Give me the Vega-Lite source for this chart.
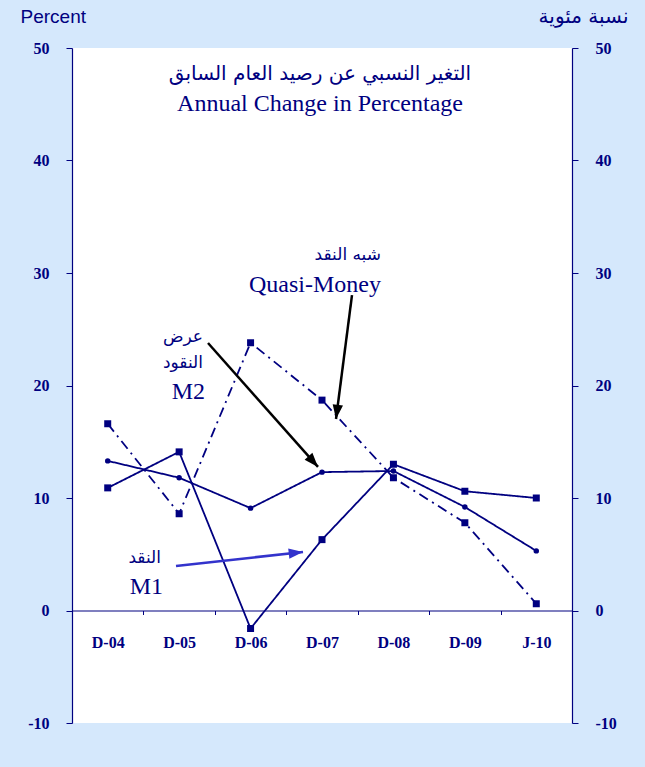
{
  "$schema": "https://vega.github.io/schema/vega-lite/v6.json",
  "width": 500,
  "height": 675,
  "autosize": {"type": "none"},
  "padding": {"left": 72, "top": 48, "right": 73, "bottom": 44},
  "background": "#D5E8FC",
  "config": {"view": {"fill": "white", "stroke": null}},
  "datasets": {
    "series": [
      {"s": "M1", "period": "D-04", "i": 0, "v": 10.9},
      {"s": "M1", "period": "D-05", "i": 1, "v": 14.1},
      {"s": "M1", "period": "D-06", "i": 2, "v": -1.6},
      {"s": "M1", "period": "D-07", "i": 3, "v": 6.3},
      {"s": "M1", "period": "D-08", "i": 4, "v": 13.0},
      {"s": "M1", "period": "D-09", "i": 5, "v": 10.6},
      {"s": "M1", "period": "J-10", "i": 6, "v": 10.0},
      {"s": "M2", "period": "D-04", "i": 0, "v": 13.3},
      {"s": "M2", "period": "D-05", "i": 1, "v": 11.8},
      {"s": "M2", "period": "D-06", "i": 2, "v": 9.1},
      {"s": "M2", "period": "D-07", "i": 3, "v": 12.3},
      {"s": "M2", "period": "D-08", "i": 4, "v": 12.4},
      {"s": "M2", "period": "D-09", "i": 5, "v": 9.2},
      {"s": "M2", "period": "J-10", "i": 6, "v": 5.3},
      {"s": "Quasi", "period": "D-04", "i": 0, "v": 16.6},
      {"s": "Quasi", "period": "D-05", "i": 1, "v": 8.6},
      {"s": "Quasi", "period": "D-06", "i": 2, "v": 23.8},
      {"s": "Quasi", "period": "D-07", "i": 3, "v": 18.7},
      {"s": "Quasi", "period": "D-08", "i": 4, "v": 11.8},
      {"s": "Quasi", "period": "D-09", "i": 5, "v": 7.8},
      {"s": "Quasi", "period": "J-10", "i": 6, "v": 0.6}
    ],
    "arrows": [
      {"a": "Q", "i": 3.42, "v": 28.04, "o": 0},
      {"a": "Q", "i": 3.196, "v": 17.02, "o": 1},
      {"a": "M2", "i": 1.404, "v": 23.78, "o": 0},
      {"a": "M2", "i": 2.944, "v": 12.76, "o": 1},
      {"a": "M1", "i": 0.956, "v": 3.96, "o": 0},
      {"a": "M1", "i": 2.734, "v": 5.2, "o": 1}
    ],
    "heads": [
      {"a": "Q", "i": 3.196, "v": 17.02, "ang": 187.4},
      {"a": "M2", "i": 2.944, "v": 12.76, "ang": 138.4},
      {"a": "M1", "i": 2.734, "v": 5.2, "ang": 83.7}
    ],
    "titlesAr": [{"t": "التغير النسبي عن رصيد العام السابق", "i": 2.972, "v": 47.69}],
    "titlesEn": [{"t": "Annual Change in Percentage", "i": 2.972, "v": 45.02}],
    "labelsAr": [
      {"t": "شبه النقد", "i": 3.826, "v": 31.6},
      {"t": "عرض", "i": 1.334, "v": 24.31},
      {"t": "النقود", "i": 1.334, "v": 22.0},
      {"t": "النقد", "i": 0.746, "v": 4.67}
    ],
    "labelsEn": [
      {"t": "Quasi-Money", "i": 3.826, "v": 28.93},
      {"t": "M2", "i": 1.362, "v": 19.42},
      {"t": "M1", "i": 0.774, "v": 2.09}
    ]
  },
  "layer": [
    {
      "data": {"name": "series"},
      "mark": {"type": "line", "strokeWidth": 1.8, "color": "#000080"},
      "encoding": {
        "x": {
          "field": "i", "type": "quantitative",
          "scale": {"domain": [-0.5, 6.5], "nice": false, "zero": false},
          "axis": {
            "orient": "bottom", "offset": -112.5, "title": null, "grid": false,
            "values": [-0.5, 0.5, 1.5, 2.5, 3.5, 4.5, 5.5, 6.5],
            "labelExpr": "['D-04','D-05','D-06','D-07','D-08','D-09','J-10',''][datum.value + 0.5]",
            "labelOffset": 35.71, "labelPadding": 20, "labelOverlap": false, "labelBound": false, "labelFlush": false,
            "labelFont": "Liberation Serif", "labelFontWeight": "bold", "labelFontSize": 16, "labelColor": "#000080",
            "domainColor": "#000080", "domainWidth": 1.2, "tickColor": "#000080", "tickSize": 4
          }
        },
        "y": {
          "field": "v", "type": "quantitative",
          "scale": {"domain": [-10, 50], "nice": false, "zero": false},
          "axis": {
            "orient": "right", "grid": false, "values": [-10, 0, 10, 20, 30, 40, 50],
            "labelExpr": "datum.value < 0 ? '-' + abs(datum.value) : datum.label",
            "labelFont": "Liberation Serif", "labelFontWeight": "bold", "labelFontSize": 16, "labelColor": "#000080",
            "labelPadding": 17, "domainColor": "#000080", "domainWidth": 1.2, "tickColor": "#000080", "tickSize": 6,
            "title": "نسبة مئوية", "titleAngle": 0, "titleAlign": "right", "titleBaseline": "middle",
            "titleX": 56, "titleY": -32, "titleFont": "DejaVu Sans", "titleFontSize": 20, "titleFontWeight": "normal", "titleColor": "#000080"
          }
        },
        "detail": {"field": "s"},
        "strokeDash": {
          "field": "s", "type": "nominal", "legend": null,
          "scale": {"domain": ["M1", "M2", "Quasi"], "range": [[1, 0], [1, 0], [10, 5, 2, 5]]}
        }
      }
    },
    {
      "data": {"name": "series"},
      "transform": [{"filter": "datum.s != 'M2'"}],
      "mark": {"type": "point", "shape": "square", "filled": true, "size": 49, "opacity": 1, "color": "#000080"},
      "encoding": {
        "x": {"field": "i", "type": "quantitative", "axis": null},
        "y": {
          "field": "v", "type": "quantitative",
          "axis": {
            "orient": "left", "grid": false, "values": [-10, 0, 10, 20, 30, 40, 50],
            "labelExpr": "datum.value < 0 ? '-' + abs(datum.value) : datum.label",
            "labelFont": "Liberation Serif", "labelFontWeight": "bold", "labelFontSize": 16, "labelColor": "#000080",
            "labelPadding": 17, "domainColor": "#000080", "domainWidth": 1.2, "tickColor": "#000080", "tickSize": 6,
            "title": "Percent", "titleAngle": 0, "titleAlign": "left", "titleBaseline": "middle",
            "titleX": -52, "titleY": -32, "titleFont": "Liberation Sans", "titleFontSize": 19, "titleFontWeight": "normal", "titleColor": "#000080"
          }
        }
      }
    },
    {
      "data": {"name": "series"},
      "transform": [{"filter": "datum.s == 'M2'"}],
      "mark": {"type": "point", "shape": "circle", "filled": true, "size": 30, "opacity": 1, "color": "#000080"},
      "encoding": {
        "x": {"field": "i", "type": "quantitative", "axis": null},
        "y": {"field": "v", "type": "quantitative", "axis": null}
      }
    },
    {
      "data": {"name": "arrows"},
      "mark": {"type": "line", "strokeWidth": 2.5},
      "encoding": {
        "x": {"field": "i", "type": "quantitative", "axis": null},
        "y": {"field": "v", "type": "quantitative", "axis": null},
        "order": {"field": "o"},
        "detail": {"field": "a"},
        "color": {"field": "a", "type": "nominal", "legend": null,
          "scale": {"domain": ["Q", "M2", "M1"], "range": ["#000000", "#000000", "#3333CC"]}}
      }
    },
    {
      "data": {"name": "heads"},
      "mark": {"type": "point", "shape": "M0,0L-0.8,2.2L0.8,2.2Z", "filled": true, "size": 169, "opacity": 1, "strokeWidth": 0},
      "encoding": {
        "x": {"field": "i", "type": "quantitative", "axis": null},
        "y": {"field": "v", "type": "quantitative", "axis": null},
        "angle": {"field": "ang", "type": "quantitative", "scale": null},
        "color": {"field": "a", "type": "nominal", "legend": null}
      }
    },
    {
      "data": {"name": "titlesAr"},
      "mark": {"type": "text", "font": "DejaVu Sans", "fontSize": 20, "align": "center", "baseline": "middle", "color": "#000080"},
      "encoding": {
        "x": {"field": "i", "type": "quantitative", "axis": null},
        "y": {"field": "v", "type": "quantitative", "axis": null},
        "text": {"field": "t"}
      }
    },
    {
      "data": {"name": "titlesEn"},
      "mark": {"type": "text", "font": "Liberation Serif", "fontSize": 24, "align": "center", "baseline": "middle", "color": "#000080"},
      "encoding": {
        "x": {"field": "i", "type": "quantitative", "axis": null},
        "y": {"field": "v", "type": "quantitative", "axis": null},
        "text": {"field": "t"}
      }
    },
    {
      "data": {"name": "labelsAr"},
      "mark": {"type": "text", "font": "DejaVu Sans", "fontSize": 17, "align": "right", "baseline": "middle", "color": "#000080"},
      "encoding": {
        "x": {"field": "i", "type": "quantitative", "axis": null},
        "y": {"field": "v", "type": "quantitative", "axis": null},
        "text": {"field": "t"}
      }
    },
    {
      "data": {"name": "labelsEn"},
      "mark": {"type": "text", "font": "Liberation Serif", "fontSize": 24, "align": "right", "baseline": "middle", "color": "#000080"},
      "encoding": {
        "x": {"field": "i", "type": "quantitative", "axis": null},
        "y": {"field": "v", "type": "quantitative", "axis": null},
        "text": {"field": "t"}
      }
    }
  ],
  "resolve": {"axis": {"x": "independent", "y": "independent"}}
}
